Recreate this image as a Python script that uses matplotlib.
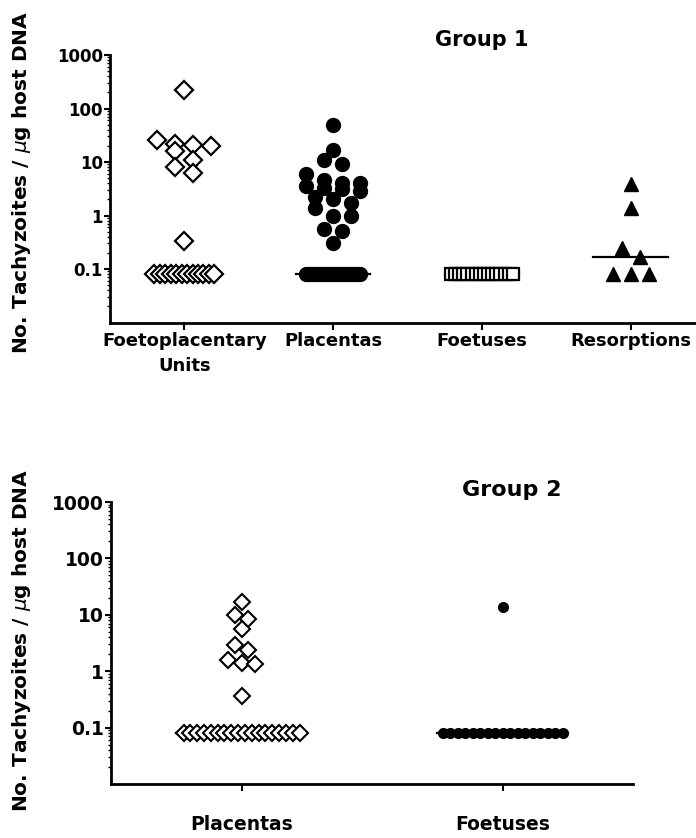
import numpy as np
import matplotlib.pyplot as plt
from matplotlib.ticker import NullFormatter, LogLocator

# Group 1, tachyzoites / ug host DNA (0.08 = below detection row)
g1_categories = ['Foetoplacentary\nUnits', 'Placentas', 'Foetuses', 'Resorptions']
g1_fpu = [218, 26, 22, 20.5, 20, 16, 11, 8, 6.3, 0.33,
          0.08, 0.08, 0.08, 0.08, 0.08, 0.08, 0.08, 0.08, 0.08, 0.08, 0.08, 0.08]
g1_placentas = [50, 17, 11, 9.3, 6.0, 4.6, 4.0, 4.0, 3.5, 3.3, 3.1, 2.85, 2.2, 2.0,
                1.7, 1.4, 1.0, 1.0, 0.55, 0.51, 0.30,
                0.08, 0.08, 0.08, 0.08, 0.08, 0.08, 0.08, 0.08, 0.08, 0.08, 0.08, 0.08,
                0.08, 0.08, 0.08, 0.08, 0.08, 0.08, 0.08, 0.08, 0.08, 0.08, 0.08, 0.08]
g1_foetuses = [0.08, 0.08, 0.08, 0.08, 0.08, 0.08, 0.08, 0.08,
               0.08, 0.08, 0.08, 0.08, 0.08, 0.08, 0.08, 0.08]
g1_resorptions = [3.8, 1.4, 0.25, 0.17, 0.08, 0.08, 0.08]

# Group 2
g2_categories = ['Placentas', 'Foetuses']
g2_placentas = [17, 10, 8.3, 5.7, 2.9, 2.35, 1.6, 1.38, 1.33, 0.36,
                0.08, 0.08, 0.08, 0.08, 0.08, 0.08, 0.08, 0.08, 0.08,
                0.08, 0.08, 0.08, 0.08, 0.08, 0.08, 0.08, 0.08, 0.08]
g2_foetuses = [13.5,
               0.08, 0.08, 0.08, 0.08, 0.08, 0.08, 0.08, 0.08, 0.08,
               0.08, 0.08, 0.08, 0.08, 0.08, 0.08, 0.08, 0.08]

yticks = [0.1, 1, 10, 100, 1000]
ytick_labels = ['0.1', '1', '10', '100', '1000']
ylabel = 'No. Tachyzoites / $\\mu$g host DNA'

W, H = 696, 838
fig = plt.figure(figsize=(W / 100, H / 100), dpi=100)


def column_scatter(ax, x0, vals, step_px, half_px, row_px=10):
    # prism-like column scatter: close values share a row, spread side by side
    vals = np.sort(np.asarray(vals, float))[::-1]
    p = ax.transData.transform(np.column_stack([[0, 1], [1, 10]]))
    unit_px = p[1, 0] - p[0, 0]
    dec_px = p[1, 1] - p[0, 1]
    ypx = np.log10(vals) * dec_px
    xs = np.zeros(len(vals))
    i = 0
    while i < len(vals):
        j = i
        while j < len(vals) and ypx[i] - ypx[j] < row_px:
            j += 1
        n = j - i
        step = step_px if n == 1 else min(step_px, 2 * half_px / (n - 1))
        xs[i:j] = x0 + (np.arange(n) - (n - 1) / 2) * step / unit_px
        i = j
    return xs, vals


def setup(ax, cats, tick_fs, lab_fs, xpad):
    ax.set_yscale('log')
    ax.set_ylim(0.01, 1000)
    ax.set_xlim(-0.5, len(cats) - 0.5)
    ax.set_yticks(yticks)
    ax.set_yticklabels(ytick_labels, fontsize=tick_fs, fontweight='bold')
    ax.yaxis.set_minor_locator(LogLocator(base=10, subs=np.arange(2, 10)))
    ax.yaxis.set_minor_formatter(NullFormatter())
    ax.set_xticks(range(len(cats)))
    ax.set_xticklabels(cats, fontsize=lab_fs, fontweight='bold', linespacing=1.5)
    for s in ['top', 'right']:
        ax.spines[s].set_visible(False)
    for s in ['left', 'bottom']:
        ax.spines[s].set_linewidth(2)
    ax.tick_params(axis='y', which='major', length=4, width=1.5, pad=1)
    ax.tick_params(axis='y', which='minor', length=2, width=1)
    ax.tick_params(axis='x', length=5, width=1.5, pad=xpad)


def median_line(ax, x0, vals, half=0.25):
    m = np.median(vals)
    ax.plot([x0 - half, x0 + half], [m, m], color='black', lw=1.6, zorder=1)


# ---- Group 1 ----
ax1 = fig.add_axes([110 / W, 1 - 322.5 / H, (705 - 110) / W, (322.5 - 55) / H])
setup(ax1, g1_categories, 12, 13, 2)

x, v = column_scatter(ax1, 0, g1_fpu, 18, 30)
median_line(ax1, 0, g1_fpu)
ax1.plot(x, v, 'D', ms=9, mfc='white', mec='black', mew=1.6, ls='none', zorder=3)

x, v = column_scatter(ax1, 1, g1_placentas, 18, 27)
median_line(ax1, 1, g1_placentas)
ax1.plot(x, v, 'o', ms=10, color='black', ls='none', zorder=3)

x, v = column_scatter(ax1, 2, g1_foetuses, 18, 31)
median_line(ax1, 2, g1_foetuses)
ax1.plot(x, v, 's', ms=9, mfc='white', mec='black', mew=1.6, ls='none', zorder=3)

x, v = column_scatter(ax1, 3, g1_resorptions, 18, 30)
median_line(ax1, 3, g1_resorptions)
ax1.plot(x, v, '^', ms=10, color='black', ls='none', zorder=3)

fig.text(482 / W, 1 - 40 / H, 'Group 1', ha='center', va='center',
         fontsize=15, fontweight='bold')
fig.text(22 / W, 1 - 182 / H, ylabel, rotation=90, ha='center', va='center',
         fontsize=14.5, fontweight='bold')

# ---- Group 2 ----
ax2 = fig.add_axes([111 / W, 1 - 784 / H, (633 - 111) / W, (784 - 502) / H])
setup(ax2, g2_categories, 13.5, 13.5, 17)

x, v = column_scatter(ax2, 0, g2_placentas, 13.5, 58, row_px=8)
median_line(ax2, 0, g2_placentas)
ax2.plot(x, v, 'D', ms=8, mfc='white', mec='black', mew=1.5, ls='none', zorder=3)

x, v = column_scatter(ax2, 1, g2_foetuses, 13.5, 60, row_px=8)
median_line(ax2, 1, g2_foetuses)
ax2.plot(x, v, 'o', ms=7, color='black', ls='none', zorder=3)

fig.text(512 / W, 1 - 490 / H, 'Group 2', ha='center', va='center',
         fontsize=16, fontweight='bold')
fig.text(22 / W, 1 - 640 / H, ylabel, rotation=90, ha='center', va='center',
         fontsize=14.5, fontweight='bold')

fig.savefig('out.png', dpi=100)
